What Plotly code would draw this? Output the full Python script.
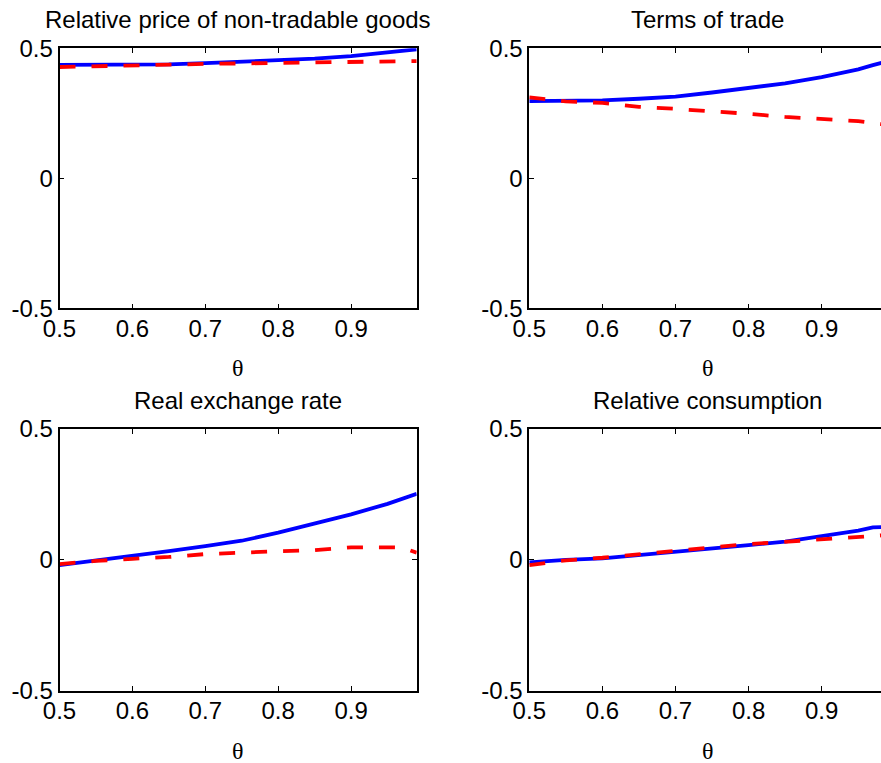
import plotly.graph_objects as go

theta = [0.5, 0.55, 0.6, 0.65, 0.7, 0.75, 0.8, 0.85, 0.9, 0.95, 0.97, 0.99]

titles = ["Relative price of non-tradable goods", "Terms of trade",
          "Real exchange rate", "Relative consumption"]

rpn_solid = [0.436, 0.436, 0.437, 0.438, 0.443, 0.448, 0.452, 0.460, 0.470, 0.483, 0.489, 0.496]
rpn_dash = [0.428, 0.430, 0.435, 0.437, 0.440, 0.442, 0.444, 0.446, 0.449, 0.451, 0.451, 0.451]

tot_solid = [0.297, 0.297, 0.300, 0.306, 0.314, 0.330, 0.347, 0.365, 0.389, 0.419, 0.435, 0.450]
tot_dash = [0.311, 0.296, 0.290, 0.275, 0.267, 0.258, 0.248, 0.236, 0.228, 0.220, 0.213, 0.205]

rer_solid = [-0.020, -0.003, 0.014, 0.033, 0.052, 0.073, 0.104, 0.139, 0.174, 0.214, 0.232, 0.252]
rer_dash = [-0.016, -0.004, 0.004, 0.011, 0.022, 0.029, 0.033, 0.037, 0.048, 0.048, 0.047, 0.027]

rc_solid = [-0.010, 0.000, 0.006, 0.018, 0.030, 0.043, 0.056, 0.070, 0.090, 0.112, 0.124, 0.126]
rc_dash = [-0.020, -0.002, 0.008, 0.022, 0.033, 0.048, 0.060, 0.070, 0.080, 0.088, 0.094, 0.095]

x_ticks = [0.5, 0.6, 0.7, 0.8, 0.9]
x_ticktext = ["0.5", "0.6", "0.7", "0.8", "0.9"]
y_ticks = [-0.5, 0, 0.5]
y_ticktext = ["-0.5", "0", "0.5"]
xlabel = "θ"

W, H = 881, 763
series = [(rpn_solid, rpn_dash), (tot_solid, tot_dash), (rer_solid, rer_dash), (rc_solid, rc_dash)]

# geometry in screenshot pixels
left_px = (59.5, 416.7)
right_px = (529.3, 881.0)
top_py = (48.3, 308.3)
bot_py = (429.0, 690.7)

def xdom(p):
    return [p[0] / W, min(1.0, p[1] / W)]

def ydom(p):
    return [(H - p[1]) / H, (H - p[0]) / H]

panels = [(left_px, top_py), (right_px, top_py), (left_px, bot_py), (right_px, bot_py)]
xr_right = 0.5 + (881.0 - 529.3) / 731.0
xranges = [[0.5, 0.99], [0.5, xr_right], [0.5, 0.99], [0.5, xr_right]]

fig = go.Figure()
font = dict(family="Liberation Sans, Arial, sans-serif", size=24, color="black")

for i, ((sol, das), (px, py)) in enumerate(zip(series, panels)):
    n = "" if i == 0 else str(i + 1)
    xa, ya = "x" + n, "y" + n
    fig.add_trace(go.Scatter(x=theta, y=sol, mode="lines", xaxis=xa, yaxis=ya,
                             line=dict(color="#0000FF", width=3.8), showlegend=False))
    fig.add_trace(go.Scatter(x=theta, y=das, mode="lines", xaxis=xa, yaxis=ya,
                             line=dict(color="#FF0000", width=3.8, dash="16px,16px"), showlegend=False))
    right_side = i in (1, 3)
    fig.layout["xaxis" + n] = dict(
        domain=xdom(px), range=xranges[i], anchor=ya, automargin=False,
        tickvals=x_ticks, ticktext=x_ticktext, ticks="inside", ticklen=5,
        tickcolor="black", showline=True, linecolor="black", linewidth=1.6,
        mirror="ticks", showgrid=False, zeroline=False, tickfont=font,
        ticklabelstandoff=-2,
    )
    fig.layout["yaxis" + n] = dict(
        domain=ydom(py), range=[-0.5, 0.5], anchor=xa, automargin=False,
        tickvals=y_ticks, ticktext=y_ticktext, ticks="inside", ticklen=5,
        tickcolor="black", showline=True, linecolor="black", linewidth=1.6,
        mirror=False if right_side else "ticks", showgrid=False, zeroline=False,
        tickfont=font, ticklabelstandoff=0,
    )
    cx = ((px[0] + (886.0 if right_side else px[1])) / 2) / W
    fig.add_annotation(text=titles[i], xref="paper", yref="paper", x=cx,
                       y=(H - (py[0] - 29)) / H, xanchor="center", yanchor="middle",
                       showarrow=False, font=font)
    fig.add_annotation(text=xlabel, xref="paper", yref="paper", x=cx,
                       y=(H - (py[1] + 60)) / H, xanchor="center", yanchor="middle",
                       showarrow=False,
                       font=dict(family="Liberation Serif, Times New Roman, serif", size=24, color="black"))

fig.update_layout(width=W, height=H, margin=dict(l=0, r=0, t=0, b=0, autoexpand=False),
                  plot_bgcolor="white", paper_bgcolor="white")

fig.write_html("out.html", config={"displayModeBar": False},
               post_script="document.body.style.margin='0';document.body.style.overflow='hidden';")
